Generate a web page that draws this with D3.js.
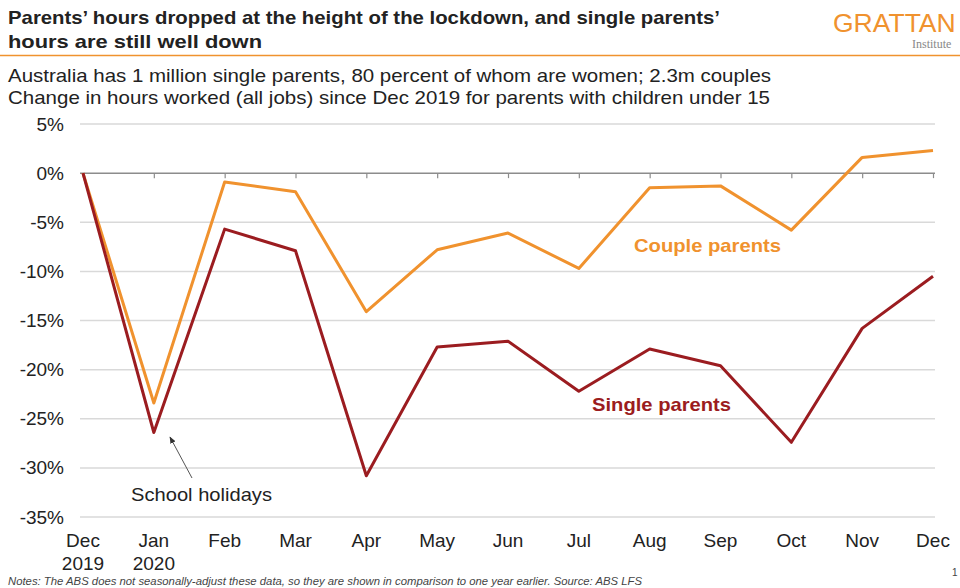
<!DOCTYPE html>
<html>
<head>
<meta charset="utf-8">
<script src="https://d3js.org/d3.v7.min.js"></script>
<style>
  body { margin: 0; background: #fff; }
  svg text { font-family: "Liberation Sans", Arial, sans-serif; }
</style>
</head>
<body>
<div id="chart"></div>
<script>
// data
var months = ["Dec|2019", "Jan|2020", "Feb", "Mar", "Apr", "May", "Jun", "Jul", "Aug", "Sep", "Oct", "Nov", "Dec"];
var coupleParents = [0, -23.4, -0.9, -1.9, -14.1, -7.8, -6.1, -9.7, -1.5, -1.3, -5.8, 1.6, 2.3];
var singleParents = [0, -26.4, -5.7, -7.9, -30.8, -17.7, -17.1, -22.2, -17.9, -19.6, -27.4, -15.8, -10.5];
var yTicks = [5, 0, -5, -10, -15, -20, -25, -30, -35];

var orange = "#F0922E", red = "#9B1C20", ink = "#222";

var svg = d3.select("#chart").append("svg")
  .attr("width", 960).attr("height", 588);

// arrow marker
svg.append("defs").append("marker")
  .attr("id", "arr").attr("viewBox", "0 0 10 10")
  .attr("refX", 9).attr("refY", 5)
  .attr("markerWidth", 7).attr("markerHeight", 7)
  .attr("orient", "auto")
  .append("path").attr("d", "M0,1 L10,5 L0,9 z").attr("fill", "#333");

// title block
svg.append("text").attr("x", 8).attr("y", 24)
  .attr("font-size", 19).attr("font-weight", "bold").attr("fill", ink)
  .attr("textLength", 712).attr("lengthAdjust", "spacingAndGlyphs")
  .text("Parents\u2019 hours dropped at the height of the lockdown, and single parents\u2019");
svg.append("text").attr("x", 8).attr("y", 48)
  .attr("font-size", 19).attr("font-weight", "bold").attr("fill", ink)
  .attr("textLength", 254).attr("lengthAdjust", "spacingAndGlyphs")
  .text("hours are still well down");
svg.append("line").attr("x1", 0).attr("x2", 960).attr("y1", 55.5).attr("y2", 55.5)
  .attr("stroke", orange).attr("stroke-width", 1.5);

// logo
svg.append("text").attr("x", 833).attr("y", 32)
  .attr("font-size", 26.5).attr("fill", orange)
  .text("GRATTAN");
svg.append("text").attr("x", 912).attr("y", 48)
  .attr("font-size", 12).attr("fill", "#888")
  .style("font-family", "'Liberation Serif', serif")
  .text("Institute");

// subtitles
svg.append("text").attr("x", 8).attr("y", 82)
  .attr("font-size", 19).attr("fill", ink)
  .attr("textLength", 763).attr("lengthAdjust", "spacingAndGlyphs")
  .text("Australia has 1 million single parents, 80 percent of whom are women; 2.3m couples");
svg.append("text").attr("x", 8).attr("y", 104)
  .attr("font-size", 19).attr("fill", ink)
  .attr("textLength", 762).attr("lengthAdjust", "spacingAndGlyphs")
  .text("Change in hours worked (all jobs) since Dec 2019 for parents with children under 15");

// scales
var x = d3.scalePoint().domain(d3.range(months.length)).range([83, 933]);
var y = d3.scaleLinear().domain([-35, 5]).range([517, 124]);

// gridlines
svg.append("g").selectAll("line").data(yTicks.filter(function(d) { return d !== 0; }))
  .enter().append("line")
  .attr("x1", 80).attr("x2", 935)
  .attr("y1", function(d) { return y(d); }).attr("y2", function(d) { return y(d); })
  .attr("stroke", "#d9d9d9").attr("stroke-width", 1.5);

// y labels
svg.append("g").selectAll("text").data(yTicks).enter().append("text")
  .attr("x", 64).attr("y", function(d) { return y(d) + 6.5; })
  .attr("text-anchor", "end").attr("font-size", 19).attr("fill", ink)
  .text(function(d) { return d + "%"; });

// zero axis with ticks
var xAxis = svg.append("g").attr("transform", "translate(0," + y(0) + ")")
  .call(d3.axisBottom(x).tickSize(5).tickFormat(""));
xAxis.select(".domain").attr("d", "M80,0H935").attr("stroke", "#8c8c8c").attr("stroke-width", 1.5);
xAxis.selectAll(".tick line").attr("stroke", "#8c8c8c").attr("stroke-width", 1.2);

// month labels
var mLab = svg.append("g").selectAll("text").data(months).enter().append("text")
  .attr("x", function(d, i) { return x(i); }).attr("y", 547)
  .attr("text-anchor", "middle").attr("font-size", 19).attr("fill", ink);
mLab.each(function(d) {
  var parts = d.split("|");
  var t = d3.select(this);
  parts.forEach(function(p, k) {
    t.append("tspan").attr("x", t.attr("x")).attr("dy", k === 0 ? 0 : 23).text(p);
  });
});

// lines
var line = d3.line()
  .x(function(d, i) { return x(i); })
  .y(function(d) { return y(d); });

svg.append("path").datum(coupleParents)
  .attr("d", line).attr("fill", "none")
  .attr("stroke", orange).attr("stroke-width", 3).attr("stroke-linejoin", "round");
svg.append("path").datum(singleParents)
  .attr("d", line).attr("fill", "none")
  .attr("stroke", red).attr("stroke-width", 3).attr("stroke-linejoin", "round");

// series labels
svg.append("text").attr("x", 634).attr("y", 252)
  .attr("font-size", 19).attr("font-weight", "bold").attr("fill", orange)
  .attr("textLength", 147).attr("lengthAdjust", "spacingAndGlyphs")
  .text("Couple parents");
svg.append("text").attr("x", 592).attr("y", 411)
  .attr("font-size", 19).attr("font-weight", "bold").attr("fill", red)
  .attr("textLength", 139).attr("lengthAdjust", "spacingAndGlyphs")
  .text("Single parents");

// annotation
svg.append("line").attr("x1", 192).attr("y1", 478).attr("x2", 170).attr("y2", 437)
  .attr("stroke", "#555").attr("stroke-width", 1).attr("marker-end", "url(#arr)");
svg.append("text").attr("x", 131).attr("y", 501)
  .attr("font-size", 19).attr("fill", ink)
  .attr("textLength", 141).attr("lengthAdjust", "spacingAndGlyphs")
  .text("School holidays");

// footer
svg.append("text").attr("x", 8).attr("y", 585)
  .attr("font-size", 10.5).attr("font-style", "italic").attr("fill", "#444")
  .attr("textLength", 634).attr("lengthAdjust", "spacingAndGlyphs")
  .text("Notes: The ABS does not seasonally-adjust these data, so they are shown in comparison to one year earlier. Source: ABS LFS");
svg.append("text").attr("x", 952).attr("y", 576)
  .attr("font-size", 10).attr("fill", "#444").text("1");
</script>
</body>
</html>
